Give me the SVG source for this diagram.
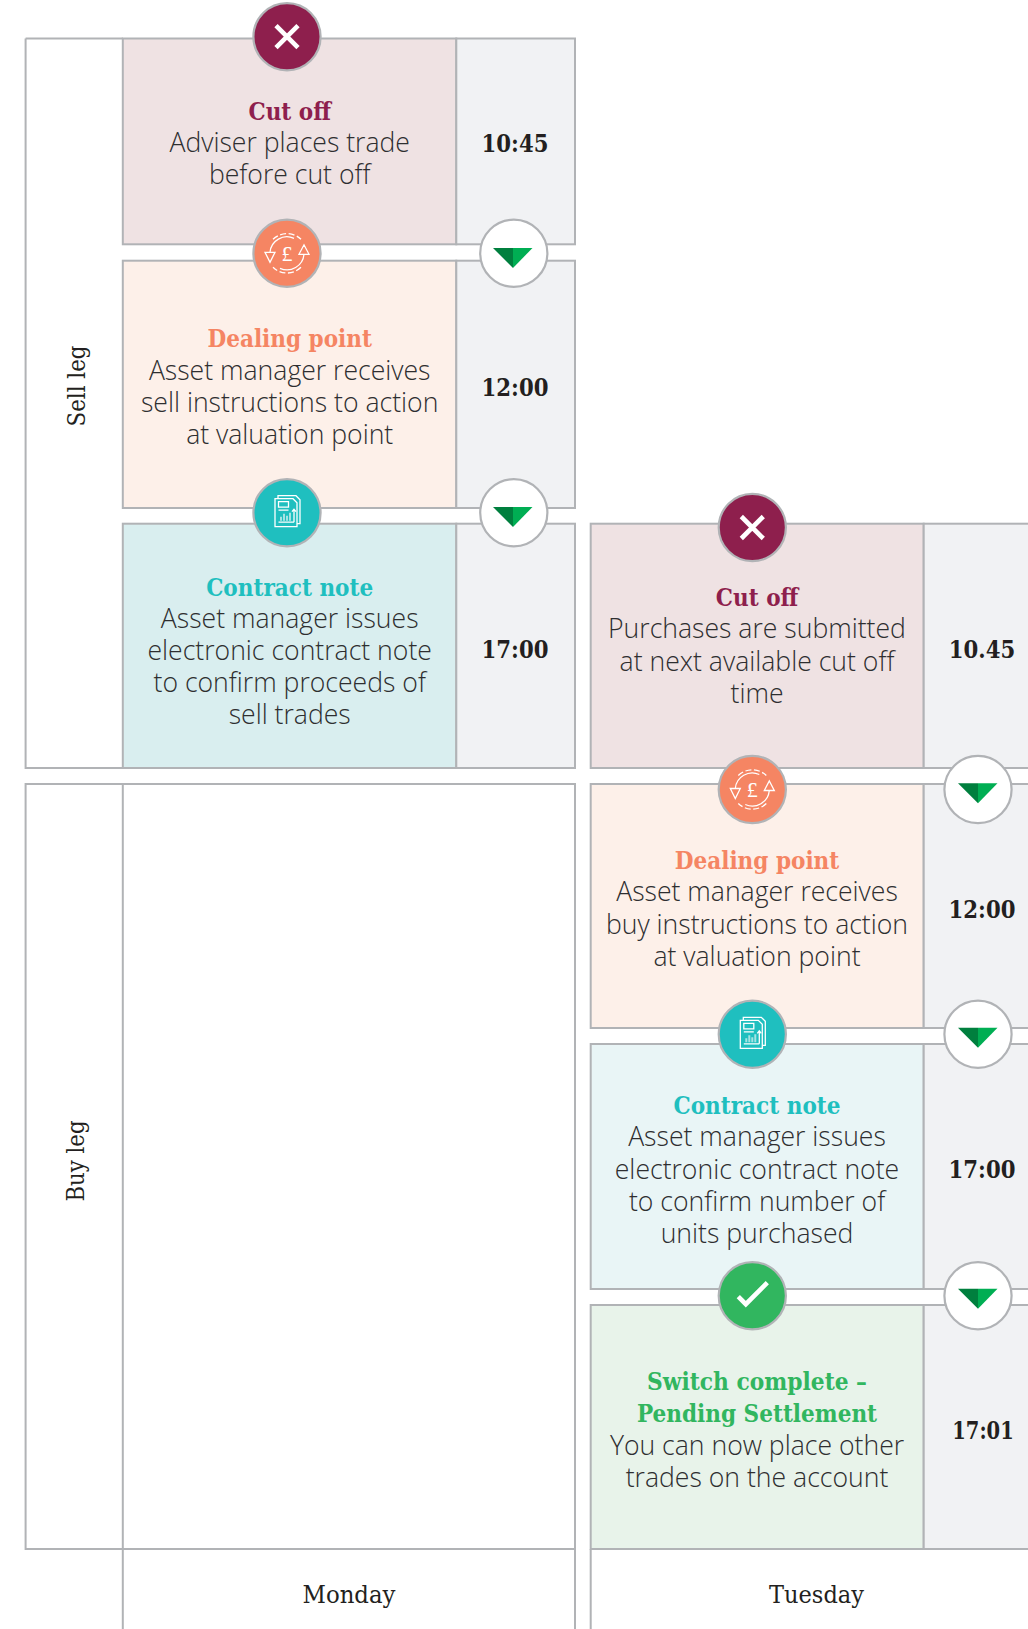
<svg xmlns="http://www.w3.org/2000/svg" width="1028" height="1629" viewBox="0 0 1028 1629">
<style>
.ln{fill:none;stroke:#b1b3b6;stroke-width:2}
.bx{stroke:#b1b3b6;stroke-width:2}
.cut{fill:#efe2e3}.deal{fill:#fdf0e9}.cn1{fill:#d9eeef}.cn2{fill:#e9f5f6}.sw{fill:#e8f3ea}.tm{fill:#f1f2f4}
.c{stroke:#b1b3b6;stroke-width:2.2}
text{text-anchor:middle}
.b{font-family:"Open Sans",sans-serif;font-weight:300;font-size:26.6px;fill:#2e2e30}
.h{font-family:"DejaVu Serif Condensed","DejaVu Serif",serif;font-weight:700;font-size:24px}
.t{font-family:"DejaVu Serif Condensed","DejaVu Serif",serif;font-weight:700;font-size:23.6px;fill:#231f20}
.d{font-family:"DejaVu Serif Condensed","DejaVu Serif",serif;font-size:24px;fill:#231f20}
.pd{font-family:"Liberation Serif",serif;font-size:22px;fill:#fff}
.ic{fill:none;stroke:#fff;stroke-width:1.3}
</style>
<defs>
<g id="tri"><path d="M-20 0H0V20Z" fill="#007f3e"/><path d="M0 0H19.5L0 20Z" fill="#00ae53"/></g>
<circle id="ring" r="33.6" fill="#fff" class="c"/>
<g id="x"><circle r="33.6" fill="#8e1f4d" class="c"/><path d="M-11 -11L11 11M11 -11L-11 11" stroke="#fff" stroke-width="4.6" fill="none"/></g>
<g id="pound"><circle r="33.6" fill="#f58563" class="c"/>
<g class="ic"><path d="M-14 -14A20 20 0 0 1 14 -14M14 14A20 20 0 0 1 -14 14" stroke-dasharray="6 2.5"/><path d="M-17 -1A17 17 0 0 1 7 -15M17 1A17 17 0 0 1 -7 15"/><path d="M-22 -1H-12L-17 9ZM22 1H12L17 -8.5Z"/></g>
</g>
<g id="doc"><circle r="33.6" fill="#1fbfbf" class="c"/>
<g class="ic"><path d="M-9 -14V-17H9L13 -13V11H10"/><path d="M-12 -14H6L10 -10V14H-12Z"/><path d="M-8.5 -11H1.5V-5.5H-8.5ZM-8.5 -2.5H1.5M-8.5 9.5H7M7 9.5V-3M5 -1L7 -3.5L9 -1"/><path d="M-6 8V4M-3 8V1M0 8V3M3 8V0" stroke="#a6e3e3" stroke-width="2"/></g>
</g>
<g id="ok"><circle r="33.6" fill="#31b65f" class="c"/><path d="M-14 1L-6.5 8.5L15 -13" stroke="#fff" stroke-width="4.6" fill="none"/></g>
</defs>

<g id="connectors">
<path class="ln" d="M25.6 38.5H122.8M25.6 38.5V768H122.8"/>
<rect class="ln" x="25.6" y="784" width="549.4" height="765"/>
<path class="ln" d="M122.8 784V1629M575 1549V1629M590.7 1549V1629M25.6 1549H575M590.7 1549H1028"/>
</g>

<g id="sell-cutoff"><rect class="bx cut" x="122.8" y="38.5" width="333.5" height="205.8"/><rect class="bx tm" x="456.3" y="38.5" width="118.7" height="205.8"/>
<text class="h" fill="#8e1f4d" x="289.7" y="120">Cut off</text><text class="b" x="289.7" y="152">Adviser places trade</text><text class="b" x="289.7" y="184">before cut off</text><text class="t" x="515" y="151.7">10:45</text></g>
<g id="sell-dealing"><rect class="bx deal" x="122.8" y="260.7" width="333.5" height="247.3"/><rect class="bx tm" x="456.3" y="260.7" width="118.7" height="247.3"/>
<text class="h" fill="#f58563" x="289.7" y="346.7">Dealing point</text><text class="b" x="289.7" y="379.5">Asset manager receives</text><text class="b" x="289.7" y="411.5">sell instructions to action</text><text class="b" x="289.7" y="443.5">at valuation point</text><text class="t" x="515" y="396">12:00</text></g>
<g id="sell-contract"><rect class="bx cn1" x="122.8" y="523.7" width="333.5" height="244.3"/><rect class="bx tm" x="456.3" y="523.7" width="118.7" height="244.3"/>
<text class="h" fill="#1fbfbf" x="289.7" y="595.5">Contract note</text><text class="b" x="289.7" y="628">Asset manager issues</text><text class="b" x="289.7" y="660">electronic contract note</text><text class="b" x="289.7" y="692">to confirm proceeds of</text><text class="b" x="289.7" y="724">sell trades</text><text class="t" x="515" y="657.5">17:00</text></g>

<g id="buy-cutoff"><rect class="bx cut" x="590.7" y="523.7" width="333" height="244.3"/><rect class="bx tm" x="923.7" y="523.7" width="110" height="244.3"/>
<text class="h" fill="#8e1f4d" x="757" y="606">Cut off</text><text class="b" x="757" y="638">Purchases are submitted</text><text class="b" x="757" y="671">at next available cut off</text><text class="b" x="757" y="703">time</text><text class="t" x="982" y="657.5">10.45</text></g>
<g id="buy-dealing"><rect class="bx deal" x="590.7" y="784" width="333" height="244"/><rect class="bx tm" x="923.7" y="784" width="110" height="244"/>
<text class="h" fill="#f58563" x="757" y="869">Dealing point</text><text class="b" x="757" y="901">Asset manager receives</text><text class="b" x="757" y="933.5">buy instructions to action</text><text class="b" x="757" y="965.5">at valuation point</text><text class="t" x="982" y="918">12:00</text></g>
<g id="buy-contract"><rect class="bx cn2" x="590.7" y="1044" width="333" height="245"/><rect class="bx tm" x="923.7" y="1044" width="110" height="245"/>
<text class="h" fill="#1fbfbf" x="757" y="1114">Contract note</text><text class="b" x="757" y="1146">Asset manager issues</text><text class="b" x="757" y="1179">electronic contract note</text><text class="b" x="757" y="1211">to confirm number of</text><text class="b" x="757" y="1243">units purchased</text><text class="t" x="982" y="1178">17:00</text></g>
<g id="buy-complete"><rect class="bx sw" x="590.7" y="1305" width="333" height="244"/><rect class="bx tm" x="923.7" y="1305" width="110" height="244"/>
<text class="h" fill="#31b65f" x="757" y="1390" textLength="220" lengthAdjust="spacingAndGlyphs">Switch complete –</text><text class="h" fill="#31b65f" x="757" y="1422">Pending Settlement</text><text class="b" x="757" y="1454.5">You can now place other</text><text class="b" x="757" y="1486.5">trades on the account</text><text class="t" x="983" y="1438.5" textLength="61.5" lengthAdjust="spacingAndGlyphs">17:01</text></g>

<g id="labels">
<text class="d" transform="translate(85 386) rotate(-90)" textLength="81" lengthAdjust="spacingAndGlyphs">Sell leg</text>
<text class="d" transform="translate(83.5 1161) rotate(-90)" textLength="81" lengthAdjust="spacingAndGlyphs">Buy leg</text>
<text class="d" x="349" y="1603" textLength="93" lengthAdjust="spacingAndGlyphs">Monday</text>
<text class="d" x="816.5" y="1603" textLength="95" lengthAdjust="spacingAndGlyphs">Tuesday</text>
</g>

<g id="icon-x1"><use href="#x" x="287" y="36.7"/></g>
<g id="icon-pound1"><use href="#pound" x="287" y="253.3"/><text class="pd" x="287" y="260.5">£</text></g>
<g id="icon-down1"><use href="#ring" x="513.8" y="253.3"/><use href="#tri" x="513" y="248"/></g>
<g id="icon-doc1"><use href="#doc" x="287" y="512.7"/></g>
<g id="icon-down2"><use href="#ring" x="513.8" y="512.7"/><use href="#tri" x="513" y="507"/></g>
<g id="icon-x2"><use href="#x" x="752.3" y="527.5"/></g>
<g id="icon-pound2"><use href="#pound" x="752.3" y="789.5"/><text class="pd" x="752.3" y="796.7">£</text></g>
<g id="icon-down3"><use href="#ring" x="978" y="789.5"/><use href="#tri" x="978" y="783.3"/></g>
<g id="icon-doc2"><use href="#doc" x="752.3" y="1034.3"/></g>
<g id="icon-down4"><use href="#ring" x="978" y="1034.3"/><use href="#tri" x="978" y="1027.8"/></g>
<g id="icon-ok"><use href="#ok" x="752.3" y="1295.7"/></g>
<g id="icon-down5"><use href="#ring" x="978" y="1295.7"/><use href="#tri" x="978" y="1288.7"/></g>
</svg>
